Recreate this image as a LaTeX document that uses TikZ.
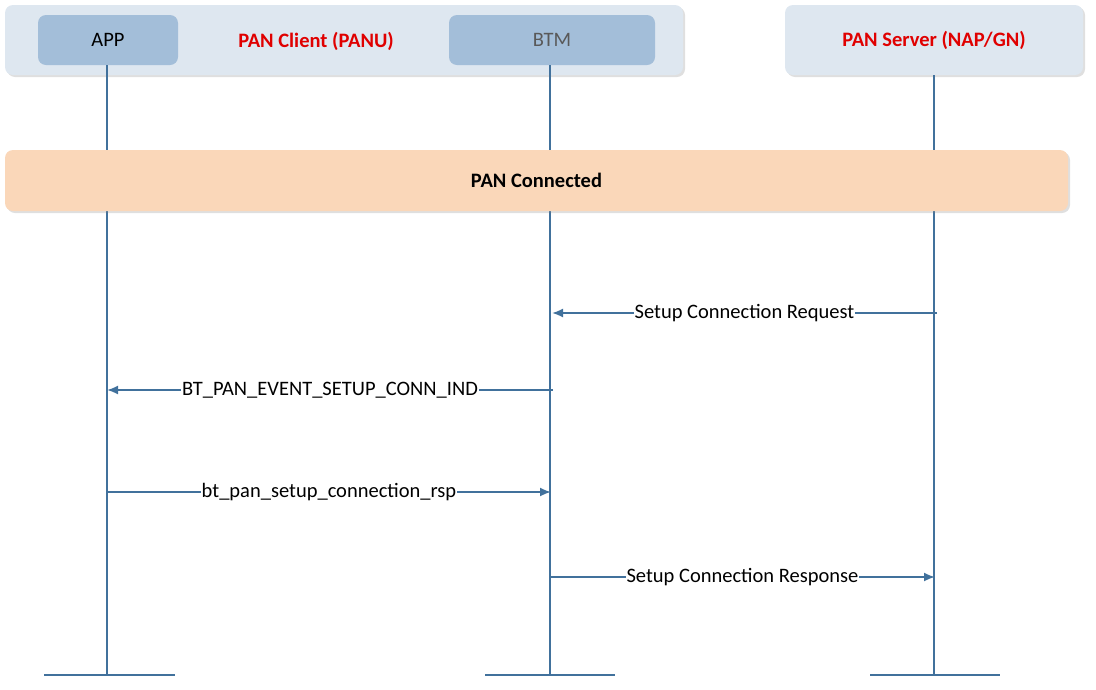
\documentclass[tikz,border=0pt]{standalone}
\usepackage{fontspec}
\setmainfont{Carlito}
\usetikzlibrary{positioning, shadows, arrows.meta}

\definecolor{grpfill}{HTML}{DEE7F0}
\definecolor{actfill}{HTML}{A3BED9}
\definecolor{bandfill}{HTML}{FAD7B9}
\definecolor{msgline}{HTML}{41719C}
\definecolor{lblred}{HTML}{E00000}

\begin{document}
\begin{tikzpicture}[
x=1pt, y=-1pt,
font=\fontsize{20.5}{24}\selectfont,
group/.style={rectangle, rounded corners=8pt, fill=grpfill, draw=none,
  drop shadow={shadow xshift=2pt, shadow yshift=-2pt, opacity=0.25}},
actor/.style={rectangle, rounded corners=8pt, fill=actfill, draw=none},
grptitle/.style={text=lblred, font=\fontsize{20.5}{24}\selectfont\bfseries},
lifeline/.style={msgline, line width=2pt},
msg/.style={-{Latex[length=11pt,width=9pt]}, msgline, line width=1.8pt},
msglabel/.style={fill=white, inner sep=1pt, text=black},
>=latex
]
\useasboundingbox (0,0) rectangle (1096,689);

% groups
\node[group, minimum width=678pt, minimum height=70pt] (client) at (344,40) {};
\node[group, minimum width=298pt, minimum height=70pt] (server) at (934,40) {};
\node[actor, minimum width=140pt, minimum height=50pt] (app) at (108,40) {APP};
\node[actor, minimum width=206pt, minimum height=50pt, text=black!65] (btm) at (552,40) {BTM};
\node[grptitle] (clientlbl) at (316,41) {PAN Client (PANU)};
\node[grptitle] at (server.center) {PAN Server (NAP/GN)};

% lifelines
\coordinate (append) at (107,675);
\coordinate (btmend) at (550,675);
\coordinate (srvend) at (934,675);
\draw[lifeline] (107,65) -- (append);
\draw[lifeline] (550,65) -- (btmend);
\draw[lifeline] (934,75) -- (srvend);
\draw[lifeline] (44,675) -- (175,675);
\draw[lifeline] (485,675) -- (615,675);
\draw[lifeline] (870,675) -- (1000,675);

% state band
\node[group, fill=bandfill, minimum width=1063pt, minimum height=61pt,
  font=\fontsize{20.5}{24}\selectfont\bfseries] (conn) at (536.5,180.5) {PAN Connected};

% messages
\coordinate (s1) at (937,313); \coordinate (b1) at (552,313);
\coordinate (b2) at (553,390); \coordinate (a2) at (107,390);
\coordinate (a3) at (107,492); \coordinate (b3) at (551,492);
\coordinate (b4) at (550,577); \coordinate (s4) at (935,577);
\draw[msg] (s1) -- node[msglabel] {Setup Connection Request} (b1);
\draw[msg] (b2) -- node[msglabel] {BT\_PAN\_EVENT\_SETUP\_CONN\_IND} (a2);
\draw[msg] (a3) -- node[msglabel] {bt\_pan\_setup\_connection\_rsp} (b3);
\draw[msg] (b4) -- node[msglabel] {Setup Connection Response} (s4);
\end{tikzpicture}
\end{document}
